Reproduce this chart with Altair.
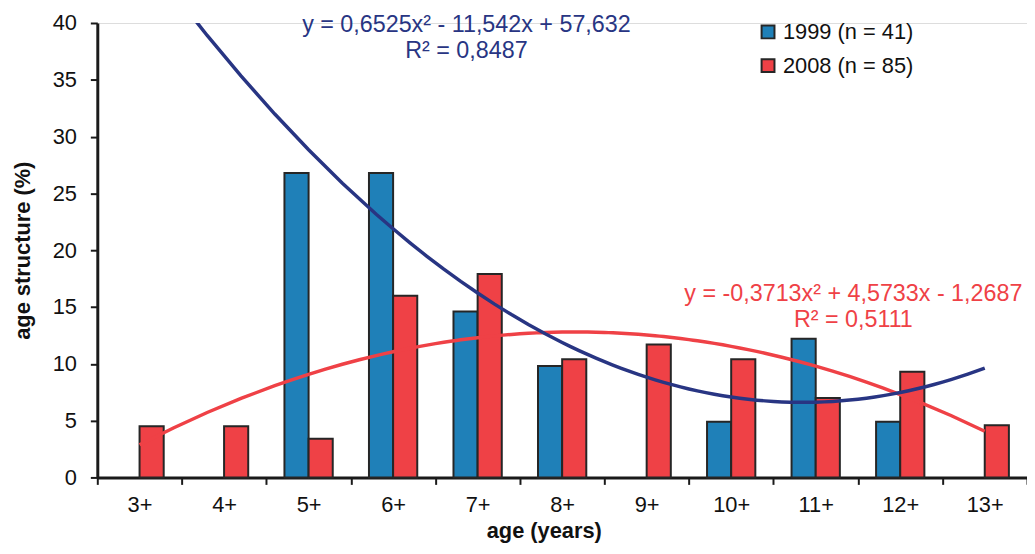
import altair as alt
import pandas as pd

ages = ["3+", "4+", "5+", "6+", "7+", "8+", "9+", "10+", "11+", "12+", "13+"]
series_names = ["1999 (n = 41)", "2008 (n = 85)"]
v1999 = [None, None, 26.8, 26.8, 14.6, 9.8, None, 4.9, 12.2, 4.9, None]
v2008 = [4.5, 4.5, 3.4, 16.0, 17.9, 10.4, 11.7, 10.4, 7.0, 9.3, 4.6]
eq1999 = ["y = 0,6525x² - 11,542x + 57,632", "R² = 0,8487"]
eq2008 = ["y = -0,3713x² + 4,5733x - 1,2687", "R² = 0,5111"]

BLUE = "#1F80B8"
RED = "#EF4146"
NAVY = "#283583"
FONT = "Liberation Sans"

rows = []
for i, a in enumerate(ages):
    for s, vals in zip(series_names, [v1999, v2008]):
        rows.append({"age": a, "idx": i + 1, "series": s, "value": vals[i]})
df = pd.DataFrame(rows)

yscale = alt.Scale(domain=[0, 40], nice=False)

bars = alt.Chart(df).transform_filter("isValid(datum.value)").mark_bar(
    stroke="#262626", strokeWidth=2
).encode(
    x=alt.X("age:N", sort=ages, scale=alt.Scale(paddingInner=0, paddingOuter=0),
            title="age (years)",
            axis=alt.Axis(labelAngle=0, tickBand="extent", tickSize=7, tickWidth=2,
                          tickColor="#1a1a1a", domainColor="#1a1a1a", domainWidth=3,
                          labelFontSize=22, labelPadding=10, labelColor="#111",
                          titleFontSize=22, titleFontWeight="bold", titleX=450, titleY=61,
                          titleBaseline="alphabetic", titleColor="#111")),
    xOffset=alt.XOffset("series:N", scale=alt.Scale(domain=series_names, paddingInner=0, paddingOuter=0.75)),
    y=alt.Y("value:Q", scale=yscale, title="age structure (%)",
            axis=alt.Axis(values=list(range(0, 41, 5)), grid=False, tickSize=7, tickWidth=2,
                          tickColor="#1a1a1a", domainColor="#1a1a1a", domainWidth=3,
                          labelFontSize=22, labelPadding=14, labelColor="#111",
                          titleFontSize=22, titleFontWeight="bold", titlePadding=18,
                          titleColor="#111")),
    color=alt.Color("series:N", scale=alt.Scale(domain=series_names, range=[BLUE, RED]),
                    legend=alt.Legend(orient="none", legendX=665, legendY=-2, title=None,
                                      symbolType="square", symbolSize=169, symbolStrokeWidth=2,
                                      symbolStrokeColor="#262626", labelFontSize=22,
                                      labelOffset=4, rowPadding=12, labelColor="#111")),
)


def trend(series, color):
    return alt.Chart(df).transform_filter(
        f"datum.series == '{series}' && isValid(datum.value)"
    ).transform_regression(
        "idx", "value", method="poly", order=2, extent=[1, 11]
    ).mark_line(color=color, strokeWidth=3.5, clip=True).encode(
        x=alt.X("idx:Q", scale=alt.Scale(domain=[0.5, 11.5], nice=False, zero=False), axis=None),
        y=alt.Y("value:Q", scale=yscale),
    )


def label(text, color, x, y):
    return alt.Chart(pd.DataFrame({"t": [text]})).mark_text(
        color=color, fontSize=23.5, align="center", baseline="middle"
    ).encode(text="t:N", x=alt.value(x), y=alt.value(y))


chart = alt.layer(
    bars,
    trend(series_names[1], RED),
    trend(series_names[0], NAVY),
    label(eq1999[0], NAVY, 372, 2),
    label(eq1999[1], NAVY, 372, 28),
    label(eq2008[0], RED, 762, 273),
    label(eq2008[1], RED, 762, 299),
).resolve_scale(x="independent").properties(
    width=937, height=458, autosize="none",
    padding={"left": 90, "top": 13, "right": 0, "bottom": 67},
).configure_view(stroke=None).configure(font=FONT)

chart.save("out.html", embed_options={"renderer": "svg", "actions": False})
